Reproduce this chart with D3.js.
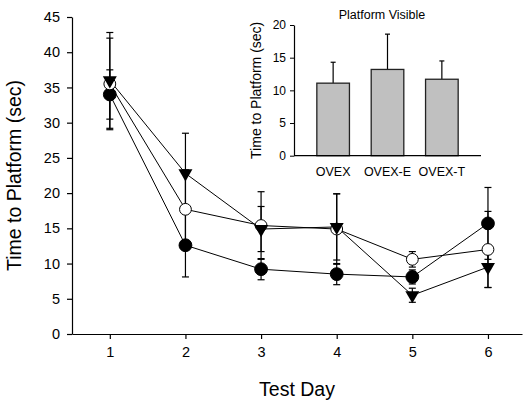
<!DOCTYPE html>
<html>
<head>
<meta charset="utf-8">
<script src="https://cdn.jsdelivr.net/npm/d3@7"></script>
<style>
  body { margin: 0; background: #fff; }
  svg { display: block; font-family: "Liberation Sans", Arial, sans-serif; }
</style>
</head>
<body>
<svg id="chart" width="523" height="403"></svg>
<script>
// Main chart data
const days = [1, 2, 3, 4, 5, 6];
const filledMean = [34.0, 12.6, 9.2, 8.5, 8.1, 15.7];
const filledErr = [3.5, 4.5, 1.5, 1.5, 1.0, 5.1];
const openMean = [35.5, 17.7, 15.4, 14.9, 10.6, 12.0];
const openErr = [6.5, 5.6, 4.8, 5.0, 1.1, 5.4];
const triMean = [36.0, 22.8, 14.9, 15.2, 5.5, 9.5];
const triErr = [6.8, 5.7, 3.2, 4.7, 1.0, 2.9];
const yTicks = [0, 5, 10, 15, 20, 25, 30, 35, 40, 45];

// Inset data
const groups = ["OVEX", "OVEX-E", "OVEX-T"];
const groupMean = [11.1, 13.2, 11.7];
const groupErr = [3.2, 5.4, 2.8];
const insetTicks = [0, 5, 10, 15, 20];

const svg = d3.select("#chart");

const x = d3.scaleLinear().domain([0.5, 6.45]).range([72, 522]);
const y = d3.scaleLinear().domain([0, 45]).range([334, 17]);

// Axes
const xAxis = svg.append("g")
    .attr("transform", `translate(0,${y(0)})`)
    .call(d3.axisBottom(x).tickValues(days).tickFormat(d3.format("d"))
        .tickSize(5).tickSizeOuter(0).tickPadding(8));
const yAxis = svg.append("g")
    .attr("transform", `translate(${x(0.5)},0)`)
    .call(d3.axisLeft(y).tickValues(yTicks).tickSize(5).tickSizeOuter(0).tickPadding(7));

[xAxis, yAxis].forEach((g) => {
    g.select(".domain").attr("stroke", "#000").attr("stroke-width", 1.2);
    g.selectAll(".tick line").attr("stroke", "#000").attr("stroke-width", 1.2);
    g.selectAll("text")
        .attr("fill", "#000")
        .style("font-family", "Liberation Sans, Arial, sans-serif")
        .style("font-size", "14.5px");
});

svg.append("text")
    .attr("x", 297)
    .attr("y", 396)
    .attr("text-anchor", "middle")
    .style("font-size", "19.5px")
    .text("Test Day");

svg.append("text")
    .attr("transform", `translate(21,${(y(0) + y(45)) / 2}) rotate(-90)`)
    .attr("text-anchor", "middle")
    .style("font-size", "19.5px")
    .text("Time to Platform (sec)");

const series = [
    { mean: filledMean, err: filledErr, kind: "filled" },
    { mean: openMean, err: openErr, kind: "open" },
    { mean: triMean, err: triErr, kind: "tri" },
];

const line = d3.line()
    .x((d, i) => x(days[i]))
    .y((d) => y(d));

// Connecting lines
for (const s of series) {
    svg.append("path")
        .attr("d", line(s.mean))
        .attr("fill", "none")
        .attr("stroke", "#000")
        .attr("stroke-width", 1);
}

// Error bars
const cap = 3.5;
for (const s of series) {
    s.mean.forEach((m, i) => {
        const cx = x(days[i]);
        const lo = y(m - s.err[i]), hi = y(m + s.err[i]);
        const g = svg.append("g").attr("stroke", "#000").attr("stroke-width", 1.2);
        g.append("line").attr("x1", cx).attr("x2", cx).attr("y1", lo).attr("y2", hi);
        g.append("line").attr("x1", cx - cap).attr("x2", cx + cap).attr("y1", lo).attr("y2", lo);
        g.append("line").attr("x1", cx - cap).attr("x2", cx + cap).attr("y1", hi).attr("y2", hi);
    });
}

// Markers
const triangle = d3.symbol().type(d3.symbolTriangle).size(85);
for (const s of series) {
    s.mean.forEach((m, i) => {
        const cx = x(days[i]), cy = y(m);
        if (s.kind === "tri") {
            svg.append("path")
                .attr("d", triangle())
                .attr("transform", `translate(${cx},${cy}) rotate(180)`)
                .attr("fill", "#000");
        } else {
            svg.append("circle")
                .attr("cx", cx)
                .attr("cy", cy)
                .attr("r", s.kind === "filled" ? 6.4 : 5.9)
                .attr("fill", s.kind === "filled" ? "#000" : "#fff")
                .attr("stroke", "#000")
                .attr("stroke-width", 1);
        }
    });
}

// Inset: Platform Visible
const bx = d3.scaleBand().domain(groups).range([294, 481]).paddingInner(0.4).paddingOuter(0.42);
const by = d3.scaleLinear().domain([0, 20]).range([155.7, 25]);

const inset = svg.append("g");

inset.append("g")
    .attr("transform", `translate(294,0)`)
    .call(d3.axisLeft(by).tickValues(insetTicks).tickSize(4).tickSizeOuter(0).tickPadding(4))
    .call((g) => {
        g.select(".domain").attr("stroke", "#000").attr("stroke-width", 1.2);
        g.selectAll(".tick line").attr("stroke", "#000");
        g.selectAll("text")
            .attr("fill", "#000")
            .style("font-family", "Liberation Sans, Arial, sans-serif")
            .style("font-size", "12px");
    });

// Bars
groups.forEach((gName, i) => {
    const bxl = bx(gName), w = bx.bandwidth(), cx = bxl + w / 2;
    inset.append("line")
        .attr("x1", cx).attr("x2", cx)
        .attr("y1", by(groupMean[i])).attr("y2", by(groupMean[i] + groupErr[i]))
        .attr("stroke", "#000").attr("stroke-width", 1.2);
    inset.append("line")
        .attr("x1", cx - 2.5).attr("x2", cx + 2.5)
        .attr("y1", by(groupMean[i] + groupErr[i])).attr("y2", by(groupMean[i] + groupErr[i]))
        .attr("stroke", "#000").attr("stroke-width", 1.2);
    inset.append("rect")
        .attr("x", bxl)
        .attr("y", by(groupMean[i]))
        .attr("width", w)
        .attr("height", by(0) - by(groupMean[i]))
        .attr("fill", "#c0c0c0")
        .attr("stroke", "#222")
        .attr("stroke-width", 1.3);
    inset.append("text")
        .attr("x", cx)
        .attr("y", 176)
        .attr("text-anchor", "middle")
        .style("font-size", "12.5px")
        .text(gName);
});

// bottom line of inset
inset.append("line")
    .attr("x1", 294).attr("x2", 481)
    .attr("y1", by(0)).attr("y2", by(0))
    .attr("stroke", "#000").attr("stroke-width", 1.2);

inset.append("text")
    .attr("x", 382)
    .attr("y", 19)
    .attr("text-anchor", "middle")
    .style("font-size", "12.5px")
    .text("Platform Visible");

inset.append("text")
    .attr("transform", `translate(261,${(by(0) + by(20)) / 2}) rotate(-90)`)
    .attr("text-anchor", "middle")
    .style("font-size", "14px")
    .text("Time to Platform (sec)");
</script>
</body>
</html>
